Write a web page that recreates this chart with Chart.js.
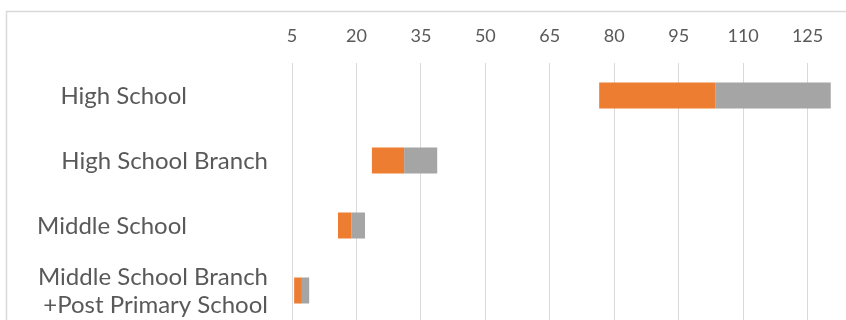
<!DOCTYPE html>
<html>
<head>
<meta charset="utf-8">
<script src="https://cdn.jsdelivr.net/npm/chart.js@4"></script>
<style>
  html, body { margin: 0; padding: 0; background: #fff; }
  #wrap { width: 846px; height: 320px; overflow: hidden; position: relative; }
  canvas { display: block; }
</style>
</head>
<body>
<div id="wrap"><canvas id="myChart" width="880" height="332"></canvas></div>
<script>
const schools = [['High School'], ['High School Branch'], ['Middle School'], ['Middle School Branch', '+Post Primary School']];
const startValues = [76.5, 23.6, 15.7, 5.5];   // invisible offset
const orangeValues = [27.1, 7.5, 3.1, 1.8];
const grayValues = [26.8, 7.7, 3.2, 1.7];
const tickValues = [5, 20, 35, 50, 65, 80, 95, 110, 125];

const textColor = '#595959';
const fontFamily = 'Lato, "Open Sans", sans-serif';

// draws the grey frame and the category labels
const extras = {
  id: 'extras',
  afterDraw(chart) {
    const ctx = chart.ctx;
    ctx.save();
    ctx.strokeStyle = '#d9d9d9';
    ctx.lineWidth = 1.5;
    ctx.beginPath();
    ctx.moveTo(6.5, 400);
    ctx.lineTo(6.5, 11.5);
    ctx.lineTo(900, 11.5);
    ctx.stroke();

    const y = chart.scales.y;
    const shortRight = 187, longRight = 268;
    ctx.fillStyle = textColor;
    ctx.font = '24px ' + fontFamily;
    ctx.textAlign = 'right';
    ctx.textBaseline = 'middle';
    schools.forEach((lines, i) => {
      const cy = y.getPixelForTick(i);
      const right = (i === 0 || i === 2) ? shortRight : longRight;
      const lh = 28;
      lines.forEach((t, j) => {
        ctx.fillText(t, right, cy + 1 + (j - (lines.length - 1) / 2) * lh);
      });
    });
    ctx.restore();
  }
};

const ctx = document.getElementById('myChart').getContext('2d');
new Chart(ctx, {
  type: 'bar',
  data: {
    labels: schools,
    datasets: [
      { label: 'start', data: startValues, backgroundColor: 'rgba(0,0,0,0)' },
      { label: 'Series 2', data: orangeValues, backgroundColor: '#ED7D31' },
      { label: 'Series 3', data: grayValues, backgroundColor: '#A5A5A5' }
    ]
  },
  options: {
    indexAxis: 'y',
    responsive: false,
    animation: false,
    layout: { padding: { top: 0, right: 8, bottom: 9, left: 0 } },
    datasets: { bar: { barPercentage: 0.4, categoryPercentage: 1 } },
    plugins: { legend: { display: false }, tooltip: { enabled: false } },
    scales: {
      x: {
        position: 'top',
        stacked: true,
        min: 5,
        max: 140,
        afterBuildTicks: s => { s.ticks = tickValues.map(v => ({ value: v })); },
        afterFit: s => { s.height = 63; },
        grid: { color: '#d9d9d9', lineWidth: 1, drawTicks: false },
        border: { display: false },
        ticks: { color: textColor, font: { family: fontFamily, size: 18 }, padding: 16 }
      },
      y: {
        stacked: true,
        afterFit: s => { s.width = 292; },
        grid: { display: false },
        border: { display: false },
        ticks: { display: false }
      }
    }
  },
  plugins: [extras]
});
</script>
</body>
</html>
